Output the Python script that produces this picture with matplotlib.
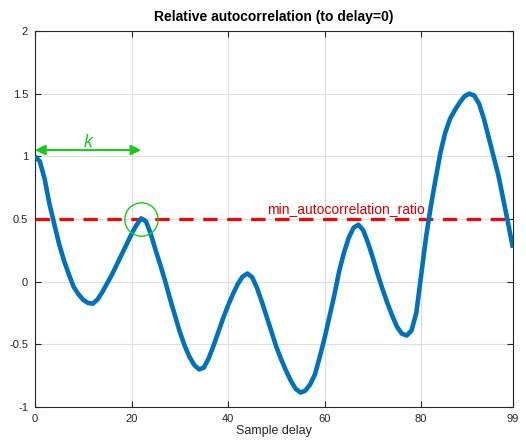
import numpy as np
import matplotlib
matplotlib.use("Agg")
import matplotlib.pyplot as plt

plt.rcParams['font.family'] = ['Liberation Sans', 'DejaVu Sans']

# sample delay vs relative autocorrelation
delay = list(range(100))
autocorr = [1.00, 0.96, 0.82, 0.62, 0.46, 0.30, 0.17, 0.06, -0.04, -0.10,
            -0.145, -0.17, -0.175, -0.14, -0.08, -0.01, 0.06, 0.14, 0.22, 0.30,
            0.38, 0.45, 0.505, 0.48, 0.38, 0.25, 0.13, 0.00, -0.14, -0.27,
            -0.40, -0.51, -0.60, -0.665, -0.70, -0.685, -0.61, -0.51, -0.40, -0.29,
            -0.19, -0.10, -0.02, 0.04, 0.065, 0.035, -0.05, -0.16, -0.28, -0.40,
            -0.52, -0.62, -0.71, -0.79, -0.855, -0.885, -0.87, -0.82, -0.74, -0.60,
            -0.45, -0.28, -0.11, 0.08, 0.23, 0.35, 0.43, 0.455, 0.41, 0.31,
            0.19, 0.06, -0.06, -0.17, -0.27, -0.36, -0.415, -0.43, -0.39, -0.25,
            0.05, 0.35, 0.60, 0.82, 1.03, 1.19, 1.30, 1.37, 1.43, 1.48,
            1.50, 1.485, 1.42, 1.30, 1.15, 1.00, 0.85, 0.66, 0.47, 0.27]

min_ratio = 0.5
k = 22
arrow_y = 1.05
xticks = [0, 20, 40, 60, 80, 99]
yticks = [-1, -0.5, 0, 0.5, 1, 1.5, 2]
ytick_labels = ['-1', '-0.5', '0', '0.5', '1', '1.5', '2']

fig = plt.figure(figsize=(5.26, 4.47), dpi=100)
ax = fig.add_axes([0.0665, 0.0895, 0.9085, 0.8411])

ax.plot(delay, autocorr, color=(0, 0.447, 0.741), lw=3.3, solid_capstyle='butt',
        solid_joinstyle='round', zorder=4)
ax.plot([0, 99], [min_ratio, min_ratio], color='red', lw=2.3, dashes=(4.5, 3.0), zorder=3)
ax.text(48, min_ratio + 0.025, 'min_autocorrelation_ratio', color=(0.85, 0, 0),
        fontsize=10, va='bottom', ha='left')

# k arrow and marker circle
green = (0.1, 0.8, 0.1)
ax.annotate('', xy=(k, arrow_y), xytext=(0, arrow_y),
            arrowprops=dict(arrowstyle='<|-|>', color=green, lw=1.5,
                            shrinkA=0, shrinkB=0, mutation_scale=15), zorder=5)
ax.text(k / 2, arrow_y - 0.005, 'k', color=green, fontsize=13, style='italic',
        ha='center', va='bottom')
ax.plot([k], [min_ratio], 'o', ms=24, mfc='none', mec=green, mew=1.0, zorder=5)

ax.set_xlim(0, 99)
ax.set_ylim(-1, 2)
ax.set_xticks(xticks)
ax.set_yticks(yticks)
ax.set_yticklabels(ytick_labels)
ax.grid(True, color=(0.87, 0.87, 0.87), lw=0.8)
ax.set_axisbelow(True)
ax.tick_params(direction='in', top=True, right=True, length=4, width=0.8,
               labelsize=8, colors=(0.15, 0.15, 0.15), pad=5)
for s in ax.spines.values():
    s.set_color((0.15, 0.15, 0.15))
    s.set_linewidth(0.8)

ax.set_title('Relative autocorrelation (to delay=0)', fontsize=10, fontweight='bold', pad=7)
ax.set_xlabel('Sample delay', fontsize=9, color=(0.15, 0.15, 0.15), labelpad=1)

fig.savefig('out.png', dpi=100)
